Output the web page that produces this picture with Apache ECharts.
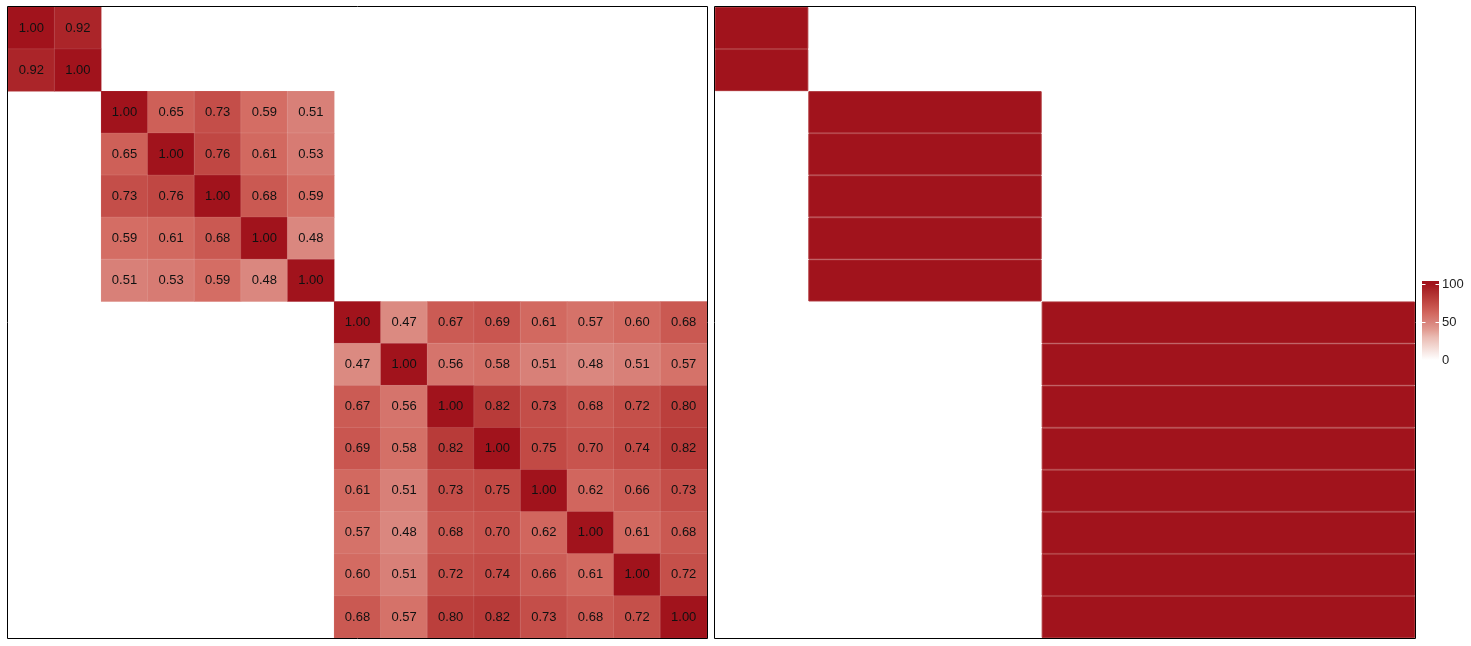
<!DOCTYPE html>
<html>
<head>
    <meta charset="utf-8">
    <title>ECharts</title>
    <script src="https://cdn.jsdelivr.net/npm/echarts@6/dist/echarts.min.js"></script>
    <style>
        html, body { margin: 0; padding: 0; background: #fff; }
    </style>
</head>
<body>
    <div id="main" style="width: 1471px;height:646px;"></div>
<script type="text/javascript">
    // block sizes along the diagonal
    var blockSizes = [2, 5, 8];

    // correlation values per block
    var block1 = [
        [1.00, 0.92],
        [0.92, 1.00]
    ];
    var block2 = [
        [1.00, 0.65, 0.73, 0.59, 0.51],
        [0.65, 1.00, 0.76, 0.61, 0.53],
        [0.73, 0.76, 1.00, 0.68, 0.59],
        [0.59, 0.61, 0.68, 1.00, 0.48],
        [0.51, 0.53, 0.59, 0.48, 1.00]
    ];
    var block3 = [
        [1.00, 0.47, 0.67, 0.69, 0.61, 0.57, 0.60, 0.68],
        [0.47, 1.00, 0.56, 0.58, 0.51, 0.48, 0.51, 0.57],
        [0.67, 0.56, 1.00, 0.82, 0.73, 0.68, 0.72, 0.80],
        [0.69, 0.58, 0.82, 1.00, 0.75, 0.70, 0.74, 0.82],
        [0.61, 0.51, 0.73, 0.75, 1.00, 0.62, 0.66, 0.73],
        [0.57, 0.48, 0.68, 0.70, 0.62, 1.00, 0.61, 0.68],
        [0.60, 0.51, 0.72, 0.74, 0.66, 0.61, 1.00, 0.72],
        [0.68, 0.57, 0.80, 0.82, 0.73, 0.68, 0.72, 1.00]
    ];
    // right panel: share per row (%)
    var rowShare = [100, 100, 100, 100, 100, 100, 100, 100, 100, 100, 100, 100, 100, 100, 100];
    var legendTicks = [0, 50, 100];

    var scaleColors = ['#ffffff', '#f8e9e6', '#f1d2cc', '#eabbb3', '#e19b91', '#d8827a',
                       '#d36b62', '#c8544e', '#bb3f3c', '#ad2a2c', '#a1131c'];

    var n = 0;
    blockSizes.forEach(function (s) { n += s; });
    var cats = [];
    for (var k = 0; k < n; k++) cats.push(String(k));

    var blocks = [block1, block2, block3];
    var heatData = [];
    var offsets = [];
    var off = 0;
    blocks.forEach(function (m, b) {
        offsets.push(off);
        for (var i = 0; i < m.length; i++) {
            for (var j = 0; j < m[i].length; j++) {
                heatData.push([off + j, off + i, m[i][j] * 100]);
            }
        }
        off += blockSizes[b];
    });

    // right panel bars: invisible offset + block width
    var barOffset = [], barLen = [];
    blocks.forEach(function (m, b) {
        for (var i = 0; i < m.length; i++) {
            barOffset.push(offsets[b]);
            barLen.push(rowShare[offsets[b] + i] / 100 * blockSizes[b]);
        }
    });

    var myChart = echarts.init(document.getElementById('main'));

    // legend bar geometry
    var lgX = 1422, lgW = 17, y0 = 360, y100 = 284;
    function ly(v) { return y0 + (y100 - y0) * v / 100; }
    var stops = [];
    var barTop = 281, barBot = 362;
    scaleColors.forEach(function (c, i) {
        var v = i * 10;
        var off2 = (ly(v) - barTop) / (barBot - barTop);
        stops.push({ offset: Math.max(0, Math.min(1, off2)), color: c });
    });
    stops.reverse();
    var legendEls = [{
        type: 'rect',
        shape: { x: lgX, y: barTop, width: lgW, height: barBot - barTop },
        style: { fill: new echarts.graphic.LinearGradient(0, 0, 0, 1, stops) },
        z: 10
    }];
    legendTicks.forEach(function (t) {
        var y = Math.round(ly(t)) + 0.5;
        if (t > 0) {
            legendEls.push({ type: 'line', shape: { x1: lgX, y1: y, x2: lgX + 3.5, y2: y },
                style: { stroke: '#fff', lineWidth: 1 }, z: 11 });
            legendEls.push({ type: 'line', shape: { x1: lgX + lgW - 3.5, y1: y, x2: lgX + lgW, y2: y },
                style: { stroke: '#fff', lineWidth: 1 }, z: 11 });
        }
        legendEls.push({ type: 'text', x: lgX + lgW + 3, y: ly(t),
            style: { text: String(t), fill: '#222', font: '13px "Liberation Sans", Arial, sans-serif',
                     verticalAlign: 'middle', align: 'left' }, z: 11 });
    });
    // panel frames
    legendEls.push({ type: 'rect', shape: { x: 7.5, y: 6.5, width: 700, height: 632 },
        style: { fill: 'none', stroke: '#000', lineWidth: 1 }, z: 20 });
    legendEls.push({ type: 'rect', shape: { x: 714.5, y: 6.5, width: 701, height: 632 },
        style: { fill: 'none', stroke: '#000', lineWidth: 1 }, z: 20 });

    var option = {
        animation: false,
        backgroundColor: '#fff',
        grid: [
            { left: 8, top: 7, width: 699, height: 631 },
            { left: 715, top: 7, width: 700, height: 631 }
        ],
        xAxis: [
            { type: 'category', gridIndex: 0, data: cats, show: false },
            { type: 'value', gridIndex: 1, min: 0, max: n, show: false }
        ],
        yAxis: [
            { type: 'category', gridIndex: 0, data: cats, inverse: true, show: false },
            { type: 'category', gridIndex: 1, data: cats, inverse: true, show: false }
        ],
        visualMap: {
            type: 'continuous',
            show: false,
            seriesIndex: 0,
            min: 0,
            max: 100,
            inRange: { color: scaleColors }
        },
        series: [{
            type: 'heatmap',
            xAxisIndex: 0,
            yAxisIndex: 0,
            data: heatData,
            itemStyle: { borderColor: 'rgba(255,255,255,0.1)', borderWidth: 1 },
            label: {
                show: true,
                color: '#111',
                fontSize: 13,
                fontFamily: '"Liberation Sans", Arial, sans-serif',
                formatter: function (p) { return (p.value[2] / 100).toFixed(2); }
            },
            emphasis: { disabled: true }
        }, {
            type: 'bar',
            xAxisIndex: 1,
            yAxisIndex: 1,
            stack: 'row',
            data: barOffset,
            barCategoryGap: '0%',
            itemStyle: { color: 'rgba(0,0,0,0)' },
            silent: true
        }, {
            type: 'bar',
            xAxisIndex: 1,
            yAxisIndex: 1,
            stack: 'row',
            data: barLen,
            barCategoryGap: '0%',
            itemStyle: { color: '#a1131c', borderColor: '#ad3237', borderWidth: 1 },
            silent: true
        }],
        graphic: legendEls
    };
    myChart.setOption(option);
</script>
</body>
</html>
